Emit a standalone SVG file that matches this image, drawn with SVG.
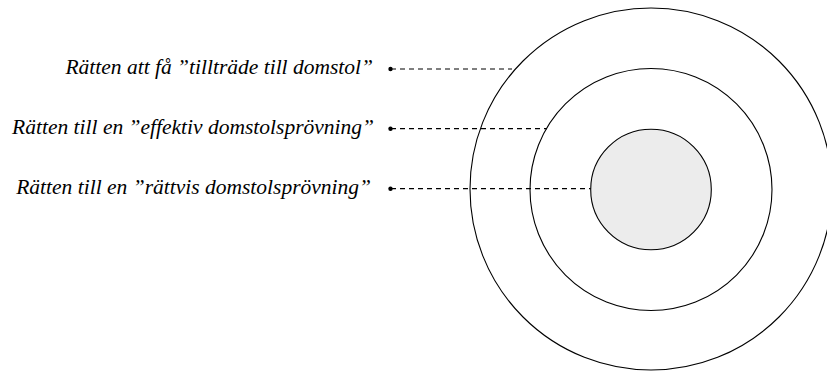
<svg xmlns="http://www.w3.org/2000/svg" width="827" height="372" viewBox="0 0 827 372">
<style>
.ring{fill:none;stroke:#000;stroke-width:1.1}
.dash{stroke:#000;stroke-width:1.2;stroke-dasharray:5,4;fill:none}
.dot{fill:#000}
.lbl{font-family:'Liberation Serif',serif;font-style:italic;font-size:21.5px;fill:#000;text-anchor:end}
</style>
<rect width="827" height="372" fill="#fff"/>
<g id="outer"><circle class="ring" cx="651" cy="189" r="181"/></g>
<g id="middle"><circle class="ring" cx="651" cy="189.5" r="121"/></g>
<g id="inner"><circle cx="651" cy="189.5" r="60.3" fill="#ececec" stroke="#000" stroke-width="1.1"/></g>
<g id="connectors">
<line class="dash" x1="391" y1="69" x2="512" y2="69"/>
<circle class="dot" cx="390.5" cy="69" r="2.2"/>
<line class="dash" x1="391" y1="128.7" x2="547" y2="128.7"/>
<circle class="dot" cx="390.5" cy="128.7" r="2.2"/>
<line class="dash" x1="391" y1="188.7" x2="590.7" y2="188.7"/>
<circle class="dot" cx="390.5" cy="188.7" r="2.2"/>
</g>
<g id="label1"><text class="lbl" x="373" y="74">Rätten att få ”tillträde till domstol”</text></g>
<g id="label2"><text class="lbl" x="374" y="134">Rätten till en ”effektiv domstolsprövning”</text></g>
<g id="label3"><text class="lbl" x="371" y="193.5">Rätten till en ”rättvis domstolsprövning”</text></g>
</svg>
